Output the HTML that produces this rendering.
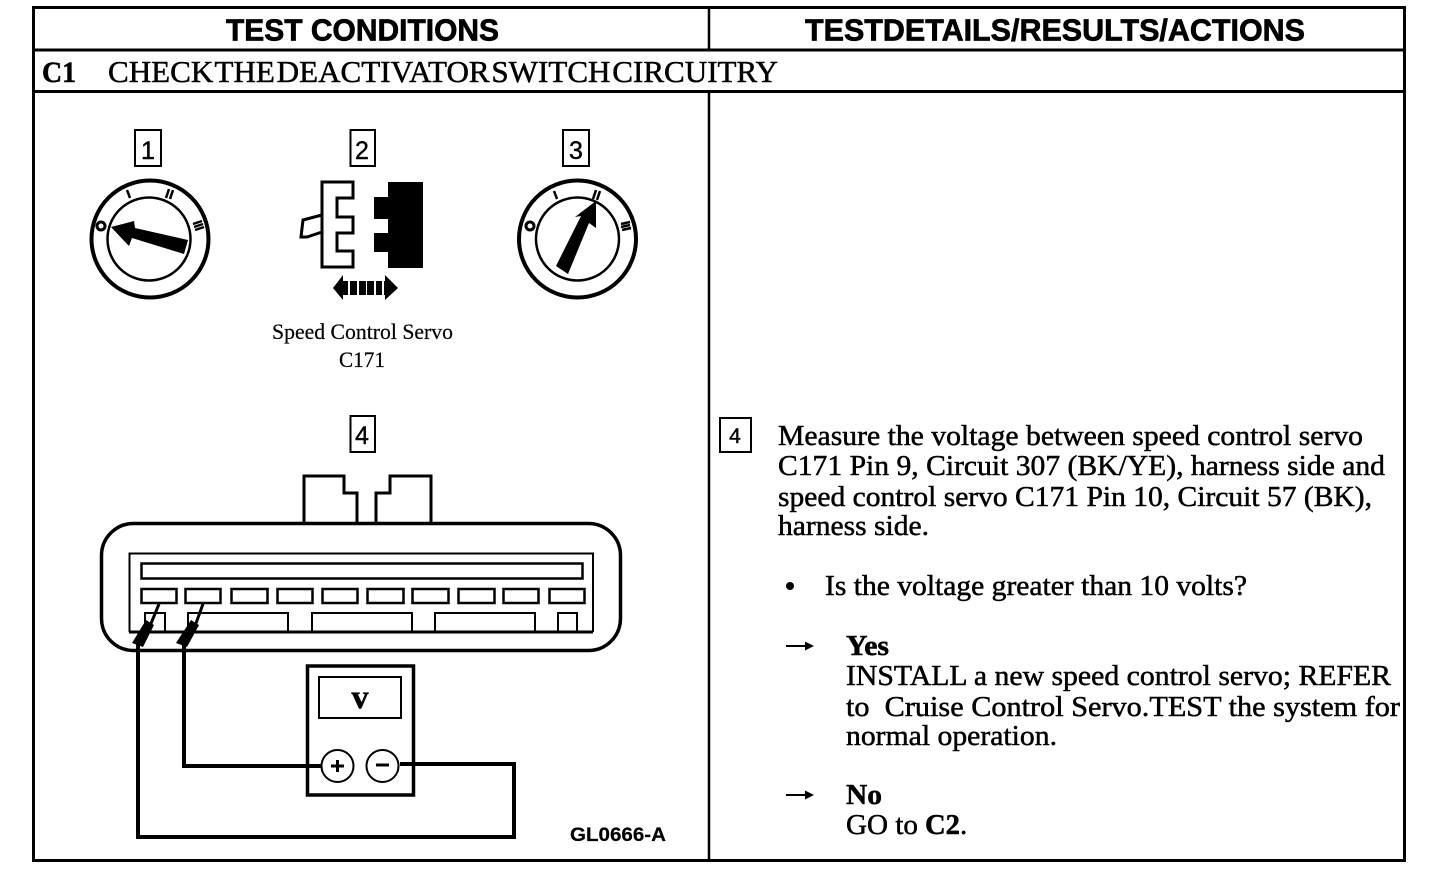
<!DOCTYPE html>
<html><head><meta charset="utf-8"><style>
html,body{margin:0;padding:0;background:#fff;width:1440px;height:872px;overflow:hidden}
svg{display:block}
text{fill:#000;stroke:#000;stroke-width:.5px;font-family:"Liberation Serif",serif}
.b{font-family:"Liberation Sans",sans-serif;font-weight:700}
.s{font-family:"Liberation Serif",serif;font-size:29px}
.w{font-weight:700}
.d{font-family:"Liberation Sans",sans-serif;stroke-width:.4px}
</style></head><body>
<svg width="1440" height="872" viewBox="0 0 1440 872" xmlns="http://www.w3.org/2000/svg">
<rect width="1440" height="872" fill="#fff"/>
<!-- table -->
<g stroke-width="3" style="fill:none;stroke:#000">
<rect x="33.500" y="7.500" width="1371" height="853"/>
<path d="M33 50H1405M33 91.500H1405"/>
<path d="M709 7V50M709 91V861" stroke-width="2.500"/>
</g>
<text class="b" x="226" y="40.500" font-size="31" textLength="273" lengthAdjust="spacingAndGlyphs" style="stroke-width:.7px">TEST CONDITIONS</text>
<text class="b" x="805" y="40.500" font-size="31" textLength="500" lengthAdjust="spacingAndGlyphs" style="stroke-width:.7px">TESTDETAILS/RESULTS/ACTIONS</text>
<text class="w" x="42" y="82" font-size="30" textLength="34" lengthAdjust="spacingAndGlyphs">C1</text>
<text x="108" y="82" font-size="31" word-spacing="-6" textLength="670" lengthAdjust="spacingAndGlyphs">CHECK THE DEACTIVATOR SWITCH CIRCUITRY</text>

<!-- number boxes -->
<g style="fill:none;stroke:#000" stroke-width="2">
<rect x="135" y="130" width="26" height="36"/>
<rect x="350.500" y="130" width="24.500" height="36"/>
<rect x="563" y="130" width="26" height="36"/>
<rect x="350.500" y="416" width="24.500" height="36"/>
<rect x="720" y="418" width="31" height="34"/>
</g>
<g font-size="25" text-anchor="middle">
<text class="d" x="148" y="159">1</text>
<text class="d" x="362" y="159">2</text>
<text class="d" x="576" y="159">3</text>
<text class="d" x="362" y="444">4</text>
<text class="d" x="735" y="443" font-size="21">4</text>
</g>

<!-- dials -->
<g style="fill:none;stroke:#000">
<circle cx="150" cy="239" r="58.500" stroke-width="4"/>
<circle cx="149" cy="239" r="41.500" stroke-width="2.500"/>
<path d="M127 190L130 198" stroke-width="2.500"/>
<path d="M169 189L166 198M173 190L170 199" stroke-width="2.500"/>
<path d="M193 224L202 221M194 227L203 224M195 230L204 227" stroke-width="2.500"/>
<circle cx="101" cy="226" r="4" stroke-width="3"/>
<circle cx="577.500" cy="239" r="58.500" stroke-width="4"/>
<circle cx="577.500" cy="239" r="41.500" stroke-width="2.500"/>
<path d="M554 191L557 199" stroke-width="2.500"/>
<path d="M596 190L593 199M600 191L597 200" stroke-width="2.500"/>
<path d="M621 224L630 222M621 227L630 225M622 230L631 228" stroke-width="2.500"/>
<circle cx="530" cy="226" r="4" stroke-width="3"/>
</g>
<polygon points="111,227 134,221 135,228 188,240 184,254 132,238 129,246" fill="#000"/>
<polygon points="596,201 596,228 589,223 568,274 556,266 581,216 575,217" fill="#000"/>

<!-- connector 2 -->
<g style="fill:none;stroke:#000">
<path d="M322 182H353V198H337V217H353V233H337V251H353V267H322Z" stroke-width="3" style="fill:#fff"/>
<path d="M322 215L303 220L301 237L307 237L322 232" stroke-width="3"/>
</g>
<path d="M388 182H423V268H388V252H374V233H388V219H374V197H388Z" fill="#000"/>
<path d="M333 288L343 275V281H348V295H343V300ZM350 281h7v14h-7ZM359 281h7v14h-7ZM367 281h7v14h-7ZM376 281h6v14h-6ZM385 281V275L398 288L385 300V295H384V281Z" fill="#000"/>
<text x="272" y="339" font-size="22" textLength="181" lengthAdjust="spacingAndGlyphs" style="stroke-width:.2px">Speed Control Servo</text>
<text x="339" y="367" font-size="22" textLength="46" lengthAdjust="spacingAndGlyphs" style="stroke-width:.2px">C171</text>

<!-- bottom connector -->
<g style="fill:none;stroke:#000">
<path d="M304 523V476H344V493H357V523M376 523V493H390V476H431V523" stroke-width="3"/>
<rect x="101.500" y="523.500" width="519" height="127" rx="32" ry="32" stroke-width="3.500"/>
<path d="M129.500 632V553.500H593V632" stroke-width="2"/>
<path d="M129 632H593" stroke-width="3"/>
<rect x="141.500" y="563.500" width="441" height="15" stroke-width="2.500"/>
<g stroke-width="2.500">
<rect x="141.500" y="589" width="35" height="14"/>
<rect x="185.500" y="589" width="35" height="14"/>
<rect x="231.500" y="589" width="36" height="14"/>
<rect x="277.500" y="589" width="35" height="14"/>
<rect x="322.500" y="589" width="35" height="14"/>
<rect x="367.500" y="589" width="36" height="14"/>
<rect x="412.500" y="589" width="36" height="14"/>
<rect x="458.500" y="589" width="36" height="14"/>
<rect x="503.500" y="589" width="35" height="14"/>
<rect x="549.500" y="589" width="35" height="14"/>
</g>
<g stroke-width="2">
<path d="M145 632V613H165V632M188 632V613H288V632M312 632V613H412V632M435 632V613H535V632M558 632V613H577V632"/>
</g>
</g>
<!-- probes -->
<path d="M159 604L150 626L138 646" style="fill:none;stroke:#000" stroke-width="3"/>
<polygon points="146,620 154,625 143,647 132,643" fill="#000"/>
<path d="M203 604L195 626L183 646" style="fill:none;stroke:#000" stroke-width="3"/>
<polygon points="191,620 199,625 187,647 176,643" fill="#000"/>
<!-- wires and meter -->
<g style="fill:none;stroke:#000">
<path d="M138 644V837H514V764H400" stroke-width="4"/>
<path d="M184 644V766H321" stroke-width="4"/>
<rect x="307.500" y="666" width="106" height="129" stroke-width="3.500"/>
<rect x="319" y="677" width="82" height="41" stroke-width="2"/>
<circle cx="337.500" cy="766" r="16" stroke-width="2" style="fill:#fff"/>
<circle cx="382.500" cy="766" r="16" stroke-width="2" style="fill:#fff"/>
<path d="M331 766H344M337.500 760V772M376 765H389" stroke-width="3"/>
</g>
<text class="w" x="360" y="708" font-size="34" text-anchor="middle">v</text>
<text class="b" x="570" y="841" font-size="19" textLength="96" lengthAdjust="spacingAndGlyphs" style="stroke-width:.2px">GL0666-A</text>

<!-- right text -->
<text class="s" x="778" y="445" textLength="585" lengthAdjust="spacingAndGlyphs">Measure the voltage between speed control servo</text>
<text class="s" x="778" y="475" textLength="607" lengthAdjust="spacingAndGlyphs">C171 Pin 9, Circuit 307 (BK/YE), harness side and</text>
<text class="s" x="778" y="506" textLength="594" lengthAdjust="spacingAndGlyphs">speed control servo C171 Pin 10, Circuit 57 (BK),</text>
<text class="s" x="778" y="535" textLength="151" lengthAdjust="spacingAndGlyphs">harness side.</text>
<circle cx="790" cy="586" r="4" fill="#000"/>
<text class="s" x="825" y="595" textLength="422" lengthAdjust="spacingAndGlyphs">Is the voltage greater than 10 volts?</text>
<path d="M786 645h19v-3.500l9 4.500l-9 4.500v-3.500h-19ZM786 794h19v-3.500l9 4.500l-9 4.500v-3.500h-19Z" fill="#000"/>
<text class="s w" x="846" y="655" textLength="43" lengthAdjust="spacingAndGlyphs">Yes</text>
<text class="s" x="846" y="685" textLength="545" lengthAdjust="spacingAndGlyphs">INSTALL a new speed control servo; REFER</text>
<text class="s" x="846" y="716" textLength="554" lengthAdjust="spacingAndGlyphs" xml:space="preserve">to  Cruise Control Servo.TEST the system for</text>
<text class="s" x="846" y="745" textLength="211" lengthAdjust="spacingAndGlyphs">normal operation.</text>
<text class="s w" x="846" y="804" textLength="36" lengthAdjust="spacingAndGlyphs">No</text>
<text class="s" x="846" y="834" textLength="72" lengthAdjust="spacingAndGlyphs">GO to</text>
<text class="s w" x="925" y="834" textLength="35" lengthAdjust="spacingAndGlyphs">C2</text>
<text class="s" x="960" y="834">.</text>
</svg>
</body></html>
